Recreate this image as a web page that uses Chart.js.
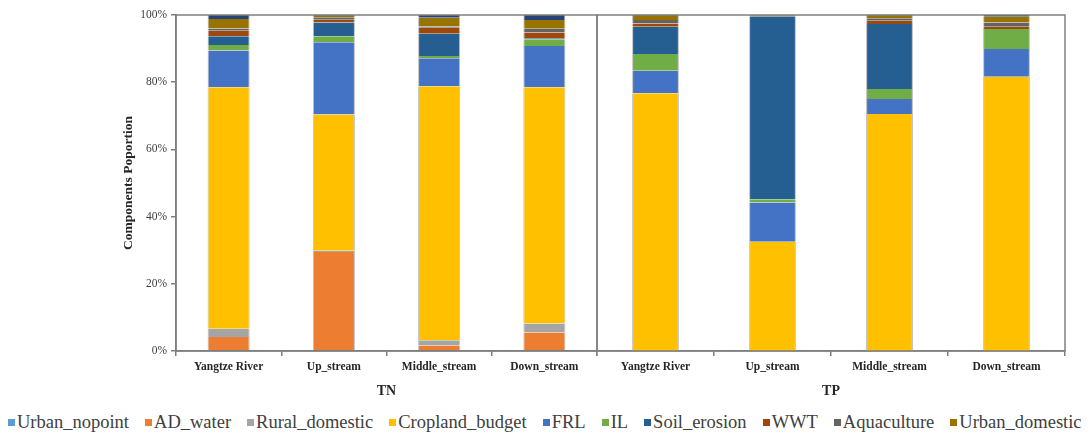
<!DOCTYPE html>
<html>
<head>
<meta charset="utf-8">
<script src="https://cdn.jsdelivr.net/npm/chart.js@4/dist/chart.umd.min.js"></script>
<style>
  html, body { margin: 0; padding: 0; background: #fff; }
  #wrap { position: relative; width: 1092px; height: 434px; overflow: hidden; }
  #cTN { position: absolute; left: 0; top: 0; }
  #cTP { position: absolute; left: 590px; top: 0; }
  #legend {
    position: absolute; left: 8px; top: 411px; height: 22px;
    display: flex; align-items: center; gap: 16px;
    font-family: 'Liberation Serif', 'Times New Roman', serif;
    font-size: 18.5px; color: #404040; white-space: nowrap;
  }
  #legend .item { display: flex; align-items: center; }
  #legend .box { width: 7px; height: 7px; margin-right: 2px; }
</style>
</head>
<body>
<div id="wrap">
  <canvas id="cTN" width="600" height="400"></canvas>
  <canvas id="cTP" width="480" height="400"></canvas>
  <div id="legend"></div>
</div>
<script>
// Basins within each nutrient group
const categories = ['Yangtze River', 'Up_stream', 'Middle_stream', 'Down_stream'];
const groups = ['TN', 'TP'];
const yTicks = [0, 20, 40, 60, 80, 100];

// Source shares (%) — first four values TN, last four TP, in category order
const urbanNopoint  = [0, 0, 0, 0,       0, 0, 0, 0];
const adWater       = [4.2, 29.5, 1.6, 5.5,   0, 0, 0, 0];
const ruralDomestic = [2.4, 0.3, 1.6, 2.7,    0, 0, 0, 0];
const croplandBudget= [71.9, 40.6, 75.6, 70.3, 76.7, 32.5, 70.5, 81.6];
const frl           = [10.9, 21.5, 8.3, 12.3,  6.7, 11.7, 4.5, 8.3];
const il            = [1.7, 1.8, 0.7, 2.0,     5.0, 1.0, 3.0, 5.9];
const soilErosion   = [2.6, 4.1, 6.6, 0.3,     8.1, 54.3, 19.3, 0];
const wwt           = [1.6, 0.8, 1.8, 1.7,     1.0, 0, 1.0, 0.7];
const aquaculture   = [0.7, 0.7, 0.4, 1.1,     1.0, 0.3, 0.7, 1.3];
const urbanDomestic = [2.8, 0.7, 2.6, 2.6,     1.5, 0.2, 1.0, 1.7];
const other         = [1.2, 0, 0.8, 1.5,       0, 0, 0, 0.5];

const seriesNames = ['Urban_nopoint', 'AD_water', 'Rural_domestic', 'Cropland_budget', 'FRL', 'IL',
                     'Soil_erosion', 'WWT', 'Aquaculture', 'Urban_domestic', 'Other'];
const seriesValues = [urbanNopoint, adWater, ruralDomestic, croplandBudget, frl, il,
                      soilErosion, wwt, aquaculture, urbanDomestic, other];
const seriesColors = ['#5B9BD5', '#ED7D31', '#A5A5A5', '#FFC000', '#4472C4', '#70AD47',
                      '#255E91', '#9E480E', '#636363', '#997300', '#264478'];
const legendCount = 10; // the last series is not listed in the legend

const SERIF = "'Liberation Serif', 'Times New Roman', serif";
const AXIS = '#7f7f7f';

function datasetsFor(groupIndex) {
  return seriesNames.map((name, i) => ({
    label: name,
    data: seriesValues[i].slice(groupIndex * 4, groupIndex * 4 + 4),
    backgroundColor: seriesColors[i],
    borderColor: '#BFBFBF',
    borderWidth: { left: 1, right: 1, top: 0, bottom: 0 },
    borderSkipped: false,
    barPercentage: 0.4,
    categoryPercentage: 1.0
  }));
}

// Frame around the plotting area
const framePlugin = {
  id: 'frame',
  afterDraw(chart) {
    const { ctx, chartArea: a } = chart;
    ctx.save();
    ctx.strokeStyle = AXIS;
    ctx.lineWidth = 1.5;
    ctx.strokeRect(a.left, a.top, a.right - a.left, a.bottom - a.top);
    ctx.restore();
  }
};

function xScale(groupIndex) {
  return {
    stacked: true,
    grid: { offset: true, drawOnChartArea: false, drawTicks: true, tickLength: 5, color: AXIS, lineWidth: 1.5 },
    border: { display: true, color: AXIS, width: 1.5 },
    ticks: { font: { family: SERIF, size: 11.5, weight: 'bold' }, color: '#262626', padding: 4, maxRotation: 0, autoSkip: false },
    title: { display: true, text: groups[groupIndex], font: { family: SERIF, size: 14, weight: 'bold' }, color: '#262626', padding: { top: 0, bottom: 0 } },
    afterFit(s) { s.height = 49; }
  };
}

const commonOpts = {
  responsive: false,
  animation: false,
  plugins: { legend: { display: false }, tooltip: { enabled: false } }
};

new Chart(document.getElementById('cTN'), {
  type: 'bar',
  data: { labels: categories, datasets: datasetsFor(0) },
  options: Object.assign({}, commonOpts, {
    layout: { padding: { left: 118, right: 3, top: 15, bottom: 0 } },
    scales: {
      x: xScale(0),
      y: {
        stacked: true, min: 0, max: 100,
        afterBuildTicks(s) { s.ticks = yTicks.map(v => ({ value: v })); },
        ticks: { callback: v => v + '%', font: { family: SERIF, size: 11.5 }, color: '#404040', padding: 4 },
        grid: { drawOnChartArea: false, drawTicks: true, tickLength: 5, color: AXIS, lineWidth: 1.5 },
        border: { display: true, color: AXIS, width: 1.5 },
        title: { display: true, text: 'Components Poportion', font: { family: SERIF, size: 13.5, weight: 'bold' }, color: '#262626', padding: { top: 2, bottom: 0 } },
        afterFit(s) { s.width = 58; }
      }
    }
  }),
  plugins: [framePlugin]
});

new Chart(document.getElementById('cTP'), {
  type: 'bar',
  data: { labels: categories, datasets: datasetsFor(1) },
  options: Object.assign({}, commonOpts, {
    layout: { padding: { left: 7, right: 5, top: 15, bottom: 0 } },
    scales: {
      x: xScale(1),
      y: { stacked: true, min: 0, max: 100, display: false }
    }
  }),
  plugins: [framePlugin]
});

// Legend row
const legend = document.getElementById('legend');
for (let i = 0; i < legendCount; i++) {
  const item = document.createElement('div');
  item.className = 'item';
  const box = document.createElement('span');
  box.className = 'box';
  box.style.background = seriesColors[i];
  const txt = document.createElement('span');
  txt.textContent = seriesNames[i];
  item.appendChild(box);
  item.appendChild(txt);
  legend.appendChild(item);
}
</script>
</body>
</html>
